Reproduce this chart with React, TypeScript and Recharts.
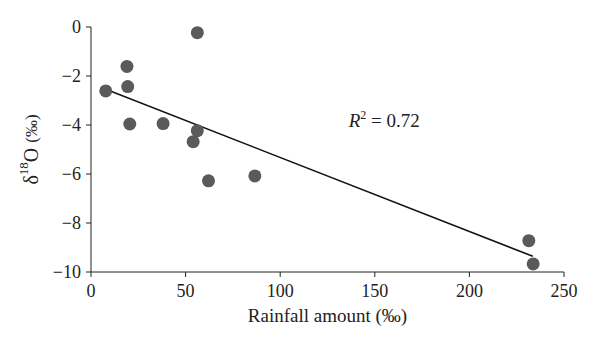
import React from 'react';
import { ScatterChart, Scatter, XAxis, YAxis, ReferenceLine, ReferenceDot } from 'recharts';

// rainfall amount (‰) vs δ18O (‰)
const rainfall = [7.8, 19.0, 19.4, 20.5, 38.1, 56.2, 56.2, 54.0, 62.1, 86.6, 231.4, 233.7];
const d18O = [-2.61, -1.61, -2.43, -3.96, -3.94, -0.23, -4.23, -4.68, -6.28, -6.08, -8.72, -9.67];

const xTicks = [0, 50, 100, 150, 200, 250];
const yTicks = [0, -2, -4, -6, -8, -10];

// linear fit drawn in the figure
const trendStart = { x: 7.8, y: -2.54 };
const trendEnd = { x: 233.5, y: -9.36 };
const r2Text = '0.72';
const r2Pos = { x: 155, y: -3.92 };

const points = rainfall.map((x, i) => ({ x, y: d18O[i] }));

const FONT = '"Liberation Serif", "DejaVu Serif", serif';

const YLabel: React.FC<any> = ({ viewBox }) => {
    const cx = 33;
    const cy = viewBox.y + viewBox.height / 2;
    return (
        <text x={cx} y={cy} transform={`rotate(-90, ${cx}, ${cy})`} textAnchor="middle" dominantBaseline="middle"
            fontFamily={FONT} fontSize={20} fill="#222">
            <tspan>δ</tspan>
            <tspan fontSize={13} dy={-8}>18</tspan>
            <tspan dy={8}>O </tspan>
            <tspan fontSize={17}>(‰)</tspan>
        </text>
    );
};

const R2Label: React.FC<any> = ({ viewBox }) => {
    const cx = viewBox.x + (viewBox.width || 0) / 2;
    const cy = viewBox.y + (viewBox.height || 0) / 2;
    return (
        <text x={cx} y={cy} textAnchor="middle" dominantBaseline="middle" fontFamily={FONT} fontSize={19} fill="#222">
            <tspan fontStyle="italic">R</tspan>
            <tspan fontSize={12} dy={-7}>2</tspan>
            <tspan dy={7}>{` = ${r2Text}`}</tspan>
        </text>
    );
};

export default function App() {
    return (
        <div style={{ position: 'absolute', left: 0, top: 0, width: 600, height: 346, background: '#fff' }}>
            <ScatterChart width={600} height={346} margin={{ top: 27, right: 36, left: 0, bottom: 0 }}>
                <XAxis
                    type="number"
                    dataKey="x"
                    domain={[0, 250]}
                    ticks={xTicks}
                    height={74}
                    tickSize={5}
                    tickMargin={7}
                    stroke="#222"
                    tick={{ fill: '#222', fontFamily: FONT, fontSize: 18 }}
                    label={{ value: 'Rainfall amount (‰)', position: 'insideBottom', offset: 24, fill: '#222', fontFamily: FONT, fontSize: 19 }}
                />
                <YAxis
                    type="number"
                    dataKey="y"
                    domain={[-10, 0]}
                    ticks={yTicks}
                    width={91}
                    tickSize={5}
                    tickMargin={5}
                    stroke="#222"
                    tick={{ fill: '#222', fontFamily: FONT, fontSize: 18 }}
                    tickFormatter={(v: number) => (v < 0 ? `−${Math.abs(v)}` : `${v}`)}
                    label={<YLabel />}
                />
                <ReferenceLine segment={[trendStart, trendEnd]} stroke="#111" strokeWidth={1.5} ifOverflow="visible" />
                <Scatter data={points} fill="#5a5a5a" isAnimationActive={false}
                    shape={(p: any) => <circle cx={p.cx} cy={p.cy} r={6.5} fill="#5a5a5a" />} />
                <ReferenceDot x={r2Pos.x} y={r2Pos.y} r={0} fill="none" stroke="none" label={<R2Label />} />
            </ScatterChart>
        </div>
    );
}
